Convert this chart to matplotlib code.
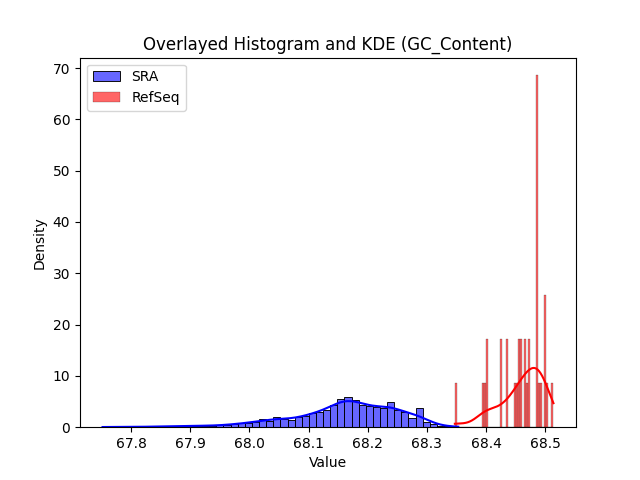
import numpy as np
import matplotlib
matplotlib.use("Agg")
import matplotlib.pyplot as plt

# ---- data ----
# SRA: 50 bins between data min and max, relative counts per bin
sra_min, sra_max = 67.752, 68.353
sra_counts = [1, 0, 0, 0, 1, 0, 1, 1, 1, 1, 1, 2, 2, 2,
              2, 2, 3, 3, 4, 6, 6, 7, 11, 9, 14, 12,
              10, 14, 16, 20, 22, 24, 32, 40, 43, 38, 32, 30,
              28, 27, 36, 24, 22, 13, 27, 7, 4, 2, 1, 1]
sra_n = 2500  # estimated number of samples (sets KDE smoothness)

# RefSeq: 50 bins between data min and max, counts per bin
ref_min, ref_max = 68.3472, 68.5138
ref_counts = [1, 0, 0, 0, 0, 0, 0, 0, 0, 0, 0, 0, 0, 0,
              1, 1, 2, 0, 0, 0, 0, 0, 0, 2, 0, 0, 2, 0, 0, 0,
              1, 1, 2, 2, 0, 2, 1, 2, 0, 0, 0, 8, 1, 1, 0, 3, 1, 0, 0, 1]
ref_n = 35

labels = ["SRA", "RefSeq"]
colors = ["blue", "red"]


def kde_curve(edges, counts, n, grid_n=200):
    centers = 0.5 * (edges[:-1] + edges[1:])
    counts = np.asarray(counts, float)
    wts = counts / counts.sum()
    mean = (centers * wts).sum()
    var = ((centers - mean) ** 2 * wts).sum() + (edges[1] - edges[0]) ** 2 / 12
    bw = np.sqrt(var) * n ** (-1 / 5)
    xs = np.linspace(edges[0], edges[-1], grid_n)
    ys = (wts[None, :] * np.exp(-0.5 * ((xs[:, None] - centers[None, :]) / bw) ** 2)).sum(1)
    ys /= bw * np.sqrt(2 * np.pi)
    return xs, ys


fig, ax = plt.subplots(figsize=(6.4, 4.8), dpi=100)

datasets = [(sra_min, sra_max, sra_counts, sra_n, 0.65),
            (ref_min, ref_max, ref_counts, ref_n, 0.14)]
for (lo, hi, counts, n, lw), lab, col in zip(datasets, labels, colors):
    nb = len(counts)
    edges = np.linspace(lo, hi, nb + 1)
    w = edges[1] - edges[0]
    c = np.asarray(counts, float)
    dens = c / (c.sum() * w)
    fc = matplotlib.colors.to_rgba(col, 0.6)
    ax.bar(edges[:-1], dens, width=w, align="edge", facecolor=fc,
           edgecolor="black", linewidth=lw, label=lab)
    xs, ys = kde_curve(edges, counts, n)
    ax.plot(xs, ys, color=col, linewidth=1.5)

ax.set_title("Overlayed Histogram and KDE (GC_Content)")
ax.set_xlabel("Value")
ax.set_ylabel("Density")
ax.legend(loc="upper left")
fig.savefig("out.png", dpi=100)
